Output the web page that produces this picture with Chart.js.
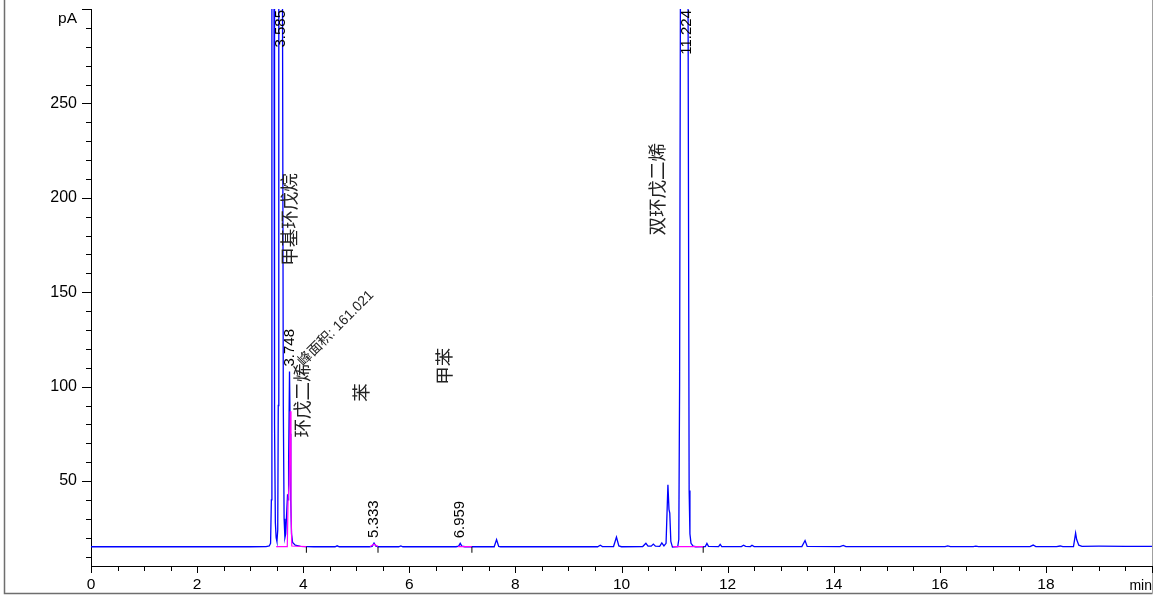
<!DOCTYPE html>
<html>
<head>
<meta charset="utf-8">
<script src="https://cdn.jsdelivr.net/npm/chart.js@4.4.1/dist/chart.umd.min.js"></script>
<style>
  html, body { margin: 0; padding: 0; background: #fff; }
  canvas { display: block; }
</style>
</head>
<body>
<canvas id="gc" width="1158" height="596"></canvas>
<script>
// FID 色谱图: 信号 (pA) 对 保留时间 (min)
const blueTime = [
  0.00, 1.00, 2.00, 3.00, 3.30, 3.36, 3.385, 3.40, 3.41, 3.43, 3.45, 3.46, 3.475, 3.49, 3.505,
  3.52, 3.53, 3.54, 3.58, 3.61, 3.625, 3.64, 3.655, 3.67, 3.69, 3.705, 3.715, 3.725, 3.742,
  3.755, 3.765, 3.78, 3.80, 3.85, 3.95, 4.20, 4.60, 4.64, 4.68, 5.25, 5.30, 5.335, 5.37, 5.42,
  5.80, 5.84, 5.88, 6.88, 6.93, 6.96, 6.99, 7.05, 7.60, 7.645, 7.685, 7.72, 8.60, 9.55, 9.60,
  9.64, 9.85, 9.905, 9.95, 10.00, 10.40, 10.46, 10.50, 10.56, 10.60, 10.64, 10.72, 10.76,
  10.80, 10.84, 10.875, 10.895, 10.91, 10.93, 10.96, 11.00, 11.06, 11.08, 11.095, 11.11,
  11.18, 11.255, 11.275, 11.29, 11.31, 11.35, 11.40, 11.58, 11.61, 11.64, 11.83, 11.86,
  11.89, 12.26, 12.30, 12.34, 12.43, 12.46, 12.50, 13.40, 13.46, 13.50, 14.12, 14.18, 14.23,
  16.10, 16.15, 16.20, 16.63, 16.68, 16.73, 17.70, 17.76, 17.81, 18.20, 18.27, 18.32, 18.52,
  18.56, 18.58, 18.62, 18.68, 19.00, 19.50, 20.00
];
const blueSignal = [
  15.2, 15.2, 15.2, 15.2, 15.3, 15.6, 17, 40, 300, 520, 300, 80, 28, 20, 18,
  24, 90, 300, 560, 300, 90, 30, 20, 22, 34, 43, 40, 60, 108,
  75, 40, 22, 17.5, 16, 15.4, 15.2, 15.2, 15.7, 15.2, 15.2, 15.4, 17.2, 15.5, 15.2,
  15.2, 15.6, 15.2, 15.2, 15.5, 17, 15.5, 15.2, 15.2, 19, 15.4, 15.2, 15.2, 15.2, 16.0,
  15.3, 15.3, 20.3, 15.6, 15.2, 15.3, 17, 15.5, 15.5, 16.6, 15.5, 15.4, 17.2,
  15.6, 17, 48, 35, 33, 18, 15, 15.2, 15.3, 19, 100, 300,
  650, 300, 45, 22, 17, 15.5, 15.2, 15.3, 17, 15.4, 15.3, 16.5,
  15.3, 15.3, 16, 15.4, 15.3, 16, 15.3, 15.3, 18.5, 15.4, 15.3, 15.9, 15.3,
  15.3, 15.6, 15.3, 15.3, 15.5, 15.3, 15.3, 16.1, 15.3, 15.3, 15.6, 15.3, 15.3,
  22.4, 19, 16, 15.4, 15.5, 15.4, 15.4
];

// 积分基线 (品红)
const magTime = [3.49, 3.70, 3.715, 3.735, 3.755, 3.77, 3.785, 4.06, null,
  5.26, 5.335, 5.41, null, 6.92, 7.18, null, 10.97, 11.54];
const magSignal = [15.3, 15.3, 40, 48, 87, 35, 15.6, 15.3, null,
  15.3, 16.5, 15.3, null, 15.3, 15.3, null, 15.3, 15.3];

// 积分终点标记
const markTime = [4.06, 5.41, 7.18, 11.54];
const markLevel = [13.6, 13.6, 13.6, 13.6];

// 保留时间标注
const peakText = ['3.585', '3.748', '5.333', '6.959', '11.224'];
const peakTime = [3.585, 3.748, 5.333, 6.959, 11.224];
const peakTop = [560, 108, 17.2, 17, 650];

// 化合物名称
const nameText = ['甲基环戊烷', '环戊二烯', '苯', '甲苯', '双环戊二烯'];
const nameTime = [3.73, 3.97, 5.08, 6.65, 10.67];
const nameLevel = [164, 73, 92, 101, 180];

const areaText = '峰面积: 161.021';
const areaTime = 3.95;
const areaLevel = 112;

const yTicks = [10, 20, 30, 40, 50, 60, 70, 80, 90, 100, 110, 120, 130, 140, 150, 160, 170, 180,
  190, 200, 210, 220, 230, 240, 250, 260, 270, 280, 290, 300];
const yLabeled = [50, 100, 150, 200, 250];
const xTicks = [0, 0.5, 1, 1.5, 2, 2.5, 3, 3.5, 4, 4.5, 5, 5.5, 6, 6.5, 7, 7.5, 8, 8.5, 9, 9.5,
  10, 10.5, 11, 11.5, 12, 12.5, 13, 13.5, 14, 14.5, 15, 15.5, 16, 16.5, 17, 17.5, 18, 18.5,
  19, 19.5, 20];
const xLabeled = [0, 2, 4, 6, 8, 10, 12, 14, 16, 18];

const pts = (xs, ys) => xs.map((x, i) => ({ x: x, y: ys[i] }));

const FONT = "'Liberation Sans', Arial, 'Noto Sans CJK SC', sans-serif";
Chart.defaults.font.family = FONT;
Chart.defaults.color = '#000';

const decor = {
  id: 'decor',
  beforeDraw(chart) {
    const ctx = chart.ctx;
    ctx.save();
    ctx.fillStyle = '#fff';
    ctx.fillRect(0, 0, chart.width, chart.height);
    ctx.lineWidth = 1.5;
    ctx.strokeStyle = '#6e6e6e';
    ctx.beginPath();
    ctx.moveTo(4.5, 0);
    ctx.lineTo(4.5, 593.5);
    ctx.lineTo(1152.5, 593.5);
    ctx.stroke();
    ctx.strokeStyle = '#a0a0a0';
    ctx.lineWidth = 1;
    ctx.beginPath();
    ctx.moveTo(1152.5, 0);
    ctx.lineTo(1152.5, 593.5);
    ctx.stroke();
    ctx.restore();
  },
  afterDraw(chart) {
    const ctx = chart.ctx;
    const xs = chart.scales.x, ys = chart.scales.y;
    const a = chart.chartArea;
    ctx.save();
    // tick marks
    ctx.strokeStyle = '#000';
    ctx.lineWidth = 1;
    ctx.beginPath();
    yTicks.forEach(v => {
      const py = Math.round(ys.getPixelForValue(v)) + 0.5;
      const len = v % 50 === 0 ? 9 : 5;
      ctx.moveTo(a.left - len, py);
      ctx.lineTo(a.left, py);
    });
    xTicks.forEach(v => {
      const px = Math.round(xs.getPixelForValue(v)) + 0.5;
      const len = v % 2 === 0 ? 7 : 5;
      ctx.moveTo(px, a.bottom);
      ctx.lineTo(px, a.bottom + len);
    });
    ctx.stroke();

    // unit labels
    ctx.fillStyle = '#000';
    ctx.font = '15.5px ' + FONT;
    ctx.textAlign = 'right';
    ctx.textBaseline = 'alphabetic';
    ctx.fillText('pA', a.left - 14, a.top + 14);
    ctx.font = '14px ' + FONT;
    ctx.fillText('min', xs.getPixelForValue(20), 590);

    // retention time labels
    ctx.font = '15px ' + FONT;
    peakText.forEach((t, i) => {
      const w = ctx.measureText(t).width;
      const px = xs.getPixelForValue(peakTime[i]);
      let yb = ys.getPixelForValue(peakTop[i]) - 5;
      if (yb - w < a.top + 1) yb = a.top + 1 + w;
      ctx.save();
      ctx.translate(px, yb);
      ctx.rotate(-Math.PI / 2);
      ctx.textAlign = 'left';
      ctx.textBaseline = 'middle';
      ctx.fillText(t, 0, 0);
      ctx.restore();
    });

    // compound names
    ctx.fillStyle = '#222';
    ctx.font = "18.5px 'Noto Sans CJK SC', sans-serif";
    nameText.forEach((t, i) => {
      ctx.save();
      ctx.translate(xs.getPixelForValue(nameTime[i]), ys.getPixelForValue(nameLevel[i]));
      ctx.rotate(-Math.PI / 2);
      ctx.textAlign = 'left';
      ctx.textBaseline = 'middle';
      ctx.fillText(t, 0, 0);
      ctx.restore();
    });

    ctx.font = '14px ' + FONT;
    ctx.save();
    ctx.translate(xs.getPixelForValue(areaTime), ys.getPixelForValue(areaLevel));
    ctx.rotate(-Math.PI / 4);
    ctx.textAlign = 'left';
    ctx.textBaseline = 'middle';
    ctx.fillText(areaText, 0, 0);
    ctx.restore();

    ctx.restore();
  }
};

new Chart(document.getElementById('gc'), {
  type: 'line',
  data: {
    datasets: [
      {
        label: 'FID',
        data: pts(blueTime, blueSignal),
        borderColor: 'rgb(0,0,255)',
        borderWidth: 1.3,
        pointRadius: 0,
        tension: 0,
        order: 2
      },
      {
        label: '基线',
        data: pts(magTime, magSignal),
        borderColor: 'rgb(255,0,255)',
        borderWidth: 1.2,
        pointRadius: 0,
        tension: 0,
        spanGaps: false,
        order: 1
      },
      {
        label: '标记',
        data: pts(markTime, markLevel),
        showLine: false,
        pointStyle: 'line',
        rotation: 90,
        pointRadius: 3,
        borderColor: '#000',
        borderWidth: 1,
        order: 0
      }
    ]
  },
  options: {
    responsive: false,
    animation: false,
    parsing: false,
    layout: { padding: { top: 9, right: 6, left: 0, bottom: 0 } },
    plugins: {
      legend: { display: false },
      tooltip: { enabled: false }
    },
    scales: {
      x: {
        type: 'linear',
        min: 0,
        max: 20,
        grid: { display: false, drawTicks: false },
        border: { display: true, color: '#000', width: 1 },
        afterBuildTicks: s => { s.ticks = xTicks.map(v => ({ value: v })); },
        afterFit: s => { s.height = 30; s.paddingLeft = 0; s.paddingRight = 0; },
        ticks: {
          autoSkip: false,
          maxRotation: 0,
          padding: 9,
          font: { size: 15.5 },
          color: '#000',
          callback: v => (xLabeled.includes(v) ? String(v) : '')
        }
      },
      y: {
        type: 'linear',
        min: 5,
        max: 300,
        grid: { display: false, drawTicks: false },
        border: { display: true, color: '#000', width: 1 },
        afterBuildTicks: s => { s.ticks = yTicks.map(v => ({ value: v })); },
        afterFit: s => { s.width = 91; s.paddingTop = 0; s.paddingBottom = 0; },
        ticks: {
          autoSkip: false,
          padding: 14,
          font: { size: 16 },
          color: '#000',
          callback: v => (yLabeled.includes(v) ? String(v) : '')
        }
      }
    }
  },
  plugins: [decor]
});
</script>
</body>
</html>
